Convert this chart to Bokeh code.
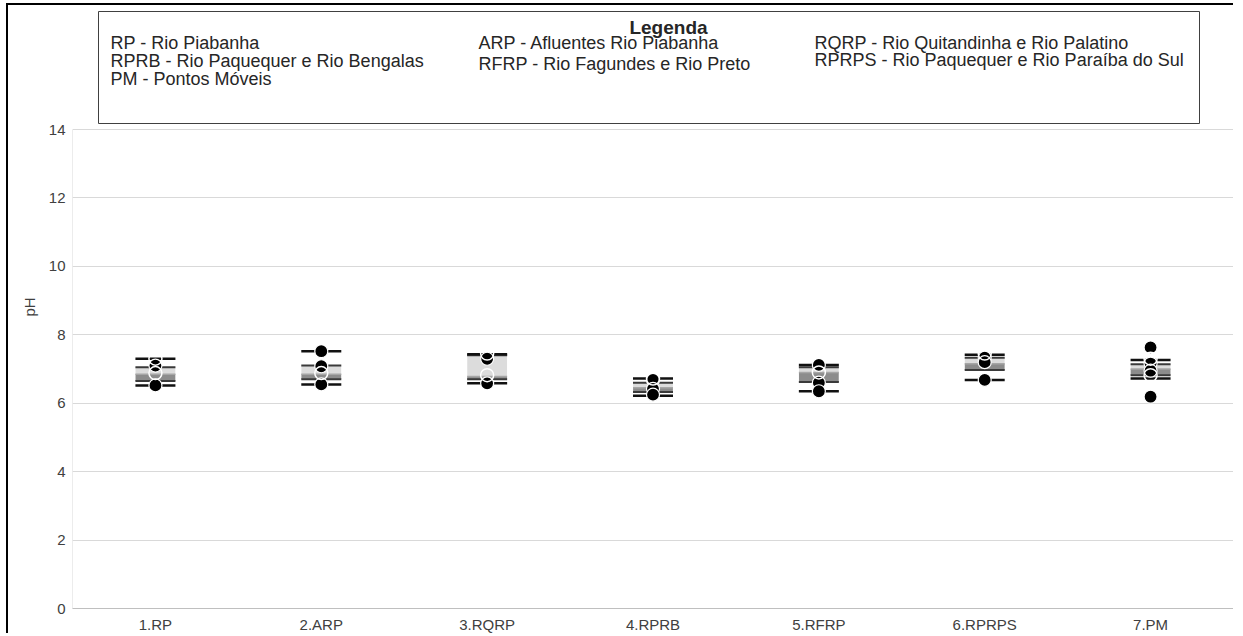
from bokeh.plotting import figure
from bokeh.models import FactorRange, Range1d, FixedTicker
from bokeh.core.properties import value
from bokeh.embed import file_html
from bokeh.resources import INLINE

# ---- data -------------------------------------------------------------
cats = ["1.RP", "2.ARP", "3.RQRP", "4.RPRB", "5.RFRP", "6.RPRPS", "7.PM"]
mins = [6.52, 6.55, 6.58, 6.22, 6.35, 6.68, 6.72]
q1s = [6.65, 6.70, 6.70, 6.33, 6.62, 6.97, 6.82]
meds = [6.85, 6.85, 6.78, 6.45, 6.90, 7.15, 7.00]
q3s = [7.05, 7.10, 7.40, 6.60, 7.05, 7.33, 7.14]
maxs = [7.30, 7.52, 7.43, 6.72, 7.12, 7.42, 7.26]

point_cats = ["1.RP", "1.RP", "2.ARP", "2.ARP", "2.ARP", "3.RQRP", "3.RQRP",
              "4.RPRB", "4.RPRB", "4.RPRB", "5.RFRP", "5.RFRP", "5.RFRP",
              "6.RPRPS", "6.RPRPS", "6.RPRPS", "7.PM", "7.PM", "7.PM", "7.PM"]
point_vals = [7.10, 6.52, 7.52, 7.08, 6.55, 7.30, 6.58,
              6.68, 6.42, 6.25, 7.12, 6.60, 6.35,
              7.33, 7.20, 6.68, 7.63, 7.16, 6.95, 6.19]

ring_cats = ["1.RP", "1.RP", "2.ARP", "3.RQRP", "3.RQRP", "4.RPRB",
             "5.RFRP", "6.RPRPS", "7.PM", "7.PM"]
ring_vals = [7.30, 6.88, 6.88, 7.45, 6.82, 6.72, 6.90, 7.45, 7.30, 6.82]

y_ticks = [0, 2, 4, 6, 8, 10, 12, 14]
y_label = "pH"

legend_title = "Legenda"
legend_col1 = ["RP - Rio Piabanha", "RPRB - Rio Paquequer e Rio Bengalas", "PM - Pontos Móveis"]
legend_col2 = ["ARP - Afluentes Rio Piabanha", "RFRP - Rio Fagundes e Rio Preto"]
legend_col3 = ["RQRP - Rio Quitandinha e Rio Palatino", "RPRPS - Rio Paquequer e Rio Paraíba do Sul"]

# ---- figure -----------------------------------------------------------
FONT = "Liberation Sans"
PX_PER_UNIT = 479 / 14
Y_END = 14 + 124 / PX_PER_UNIT
p = figure(width=1227, height=630, x_range=FactorRange(*cats, range_padding=0),
           y_range=Range1d(0, Y_END), output_backend="svg", toolbar_location=None,
           min_border_left=64, min_border_right=2, min_border_top=0, min_border_bottom=27)
p.margin = (3, 0, 0, 6)
p.styles = {"border-top": "2px solid black", "border-left": "2px solid black"}
p.outline_line_color = None
p.background_fill_color = "white"
p.border_fill_color = "white"

p.yaxis.ticker = FixedTicker(ticks=y_ticks)
p.ygrid.ticker = FixedTicker(ticks=y_ticks)
p.ygrid.grid_line_color = "#d9d9d9"
p.ygrid.grid_line_width = 1
p.xgrid.grid_line_color = None
p.yaxis.axis_line_color = None
p.yaxis.major_tick_line_color = None
p.yaxis.major_tick_out = 0
p.yaxis.minor_tick_line_color = None
p.yaxis.major_label_text_font = FONT
p.yaxis.major_label_text_font_size = "15px"
p.yaxis.major_label_text_color = "#404040"
p.yaxis.major_label_standoff = 7
p.yaxis.axis_label = y_label
p.yaxis.axis_label_text_font = FONT
p.yaxis.axis_label_text_font_size = "15px"
p.yaxis.axis_label_text_font_style = "normal"
p.yaxis.axis_label_text_color = "#404040"
p.yaxis.axis_label_standoff = 8

p.xaxis.axis_line_color = "#bfbfbf"
p.xaxis.major_tick_line_color = None
p.xaxis.major_tick_out = 0
p.xaxis.minor_tick_line_color = None
p.xaxis.major_label_text_font = FONT
p.xaxis.major_label_text_font_size = "15px"
p.xaxis.major_label_text_color = "#404040"
p.xaxis.major_label_standoff = 7

# left axis line (0..14 only)
p.segment(x0=[0], y0=[0], x1=[0], y1=[14], line_color="#d9d9d9", line_width=1)

# boxes
BW = 0.24
p.vbar(x=cats, bottom=q1s, top=meds, width=BW, fill_color="#8c8c8c", line_color=None)
p.vbar(x=cats, bottom=meds, top=q3s, width=BW, fill_color="#dcdcdc", line_color=None)

# quartile lines and whiskers
p.scatter(x=cats, y=q1s, marker="dash", size=40, line_color="#3a3a3a", line_width=2)
p.scatter(x=cats, y=q3s, marker="dash", size=40, line_color="#3a3a3a", line_width=2)
p.scatter(x=cats, y=meds, marker="dash", size=40, line_color="#a6a6a6", line_width=1.5)
p.scatter(x=cats, y=mins, marker="dash", size=40, line_color="#111111", line_width=2.5)
p.scatter(x=cats, y=maxs, marker="dash", size=40, line_color="#111111", line_width=2.5)

# points
p.scatter(x=point_cats, y=point_vals, marker="circle", size=13,
          fill_color="black", line_color="white", line_width=1.2)
p.scatter(x=ring_cats, y=ring_vals, marker="circle", size=13,
          fill_color=None, line_color="white", line_width=1.5)

# ---- legend box (drawn in the plot's own coordinates) ----------------
def px_x(px):
    return (px - 72) / (1161 / 7)

def px_y(py):
    return (608 - py) / PX_PER_UNIT

p.quad(left=[px_x(98)], right=[px_x(1199)], bottom=[px_y(123)], top=[px_y(11)],
       fill_color="white", line_color="#404040", line_width=1)
p.text(x=[px_x(668)], y=[px_y(27)], text=[legend_title], text_font=value(FONT),
       text_font_size="19px", text_font_style="bold", text_align="center",
       text_baseline="middle", text_color="#262626")
p.text(x=[px_x(110)] * 3, y=[px_y(42), px_y(60), px_y(78)], text=legend_col1,
       text_font=value(FONT), text_font_size="18px", text_baseline="middle",
       text_color="#262626")
p.text(x=[px_x(478)] * 2, y=[px_y(42), px_y(63)], text=legend_col2,
       text_font=value(FONT), text_font_size="18px", text_baseline="middle",
       text_color="#262626")
p.text(x=[px_x(814)] * 2, y=[px_y(42), px_y(59)], text=legend_col3,
       text_font=value(FONT), text_font_size="18px", text_baseline="middle",
       text_color="#262626")

open("out.html", "w").write(file_html(p, INLINE))
